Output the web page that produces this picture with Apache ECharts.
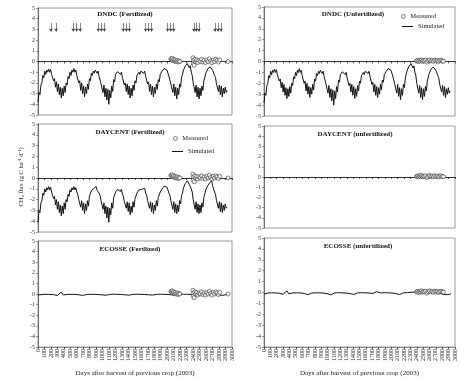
<!DOCTYPE html>
<html>
<head>
<meta charset="utf-8">
<script src="https://cdn.jsdelivr.net/npm/echarts@6/dist/echarts.min.js"></script>
<style>
  html, body { margin: 0; padding: 0; background: #fff; }
  #chart { width: 460px; height: 378px; }
</style>
</head>
<body>
<div id="chart"></div>
<script>
// simulated daily flux, sampled every 15 days from day 0
const simStep = 15;
const dndcSim = [
  -3.8,-2.9,-3.1,-2.2,-2.0,-1.3,-1.5,-0.9,-1.2,-0.8,-1.0,-0.7,
  -1.0,-0.75,-1.2,-1.3,-1.8,-1.6,-2.4,-1.9,-2.8,-2.1,-3.1,-2.4,-3.4,-2.5,-3.2,-2.3,-2.9,-2.0,-2.2,-1.4,-1.6,-1.0,-1.3,-0.8,-1.0,-0.65,
  -1.0,-0.8,-1.3,-1.4,-2.0,-1.8,-2.7,-2.0,-3.0,-2.3,-3.3,-2.4,-3.0,-2.1,-2.6,-1.6,-1.8,-1.1,-1.3,-0.9,-1.1,-0.8,-0.75,
  -1.1,-0.9,-1.4,-1.5,-2.1,-2.0,-2.9,-2.2,-3.3,-2.5,-3.6,-2.6,-4.0,-2.7,-3.4,-2.3,-2.8,-1.7,-1.9,-1.2,-1.3,-0.95,-1.1,-0.9,
  -1.2,-1.0,-1.5,-1.6,-2.2,-2.0,-2.8,-2.1,-3.1,-2.3,-3.4,-2.5,-3.2,-2.2,-2.7,-1.8,-2.0,-1.3,-1.4,-1.0,-1.2,-0.9,-1.05,-0.85,
  -1.1,-0.9,-1.4,-1.5,-2.1,-1.9,-2.8,-2.1,-3.1,-2.3,-3.3,-2.4,-3.0,-2.1,-2.6,-1.7,-1.9,-1.2,-1.3,-0.9,-1.0,-0.65,-0.8,-0.5,
  -0.8,-0.9,-1.4,-1.5,-2.1,-2.0,-2.9,-2.1,-3.2,-2.4,-3.5,-2.5,-3.1,-2.1,-2.4,-1.5,-1.4,-0.8,-0.8,-0.4,-0.5,-0.2,-0.1,
  -0.6,-0.4,-1.0,-1.3,-2.0,-2.0,-2.9,-2.2,-3.3,-2.4,-3.5,-2.5,-3.2,-2.3,-2.7,-1.8,-1.9,-1.1,-1.1,-0.7,-0.8,-0.5,-0.6,-0.4,
  -0.8,-0.8,-1.3,-1.5,-2.1,-2.1,-2.8,-2.2,-3.1,-2.3,-3.3,-2.5,-3.0,-2.4,-2.9,-2.7
];
const daycentSim = [
  -4.1,-3.0,-3.2,-2.3,-2.1,-1.4,-1.6,-1.0,-1.3,-0.9,-1.1,-0.8,
  -1.1,-0.85,-1.3,-1.3,-1.9,-1.7,-2.5,-2.0,-2.9,-2.2,-3.2,-2.5,-3.5,-2.6,-3.3,-2.3,-2.9,-2.0,-2.2,-1.5,-1.7,-1.1,-1.3,-0.9,-1.1,-0.8,
  -1.1,-0.9,-1.3,-1.5,-2.0,-1.9,-2.7,-2.1,-3.0,-2.3,-3.3,-2.4,-3.0,-2.1,-2.6,-1.7,-1.8,-1.2,-1.3,-1.0,-1.1,-0.85,-0.8,
  -1.15,-1.0,-1.4,-1.6,-2.1,-2.1,-2.9,-2.3,-3.3,-2.6,-3.7,-2.7,-4.1,-2.8,-3.4,-2.3,-2.8,-1.8,-1.9,-1.3,-1.4,-1.05,-1.2,-1.0,
  -1.25,-1.05,-1.5,-1.7,-2.2,-2.1,-2.8,-2.2,-3.1,-2.3,-3.4,-2.6,-3.2,-2.2,-2.7,-1.9,-2.0,-1.4,-1.4,-1.1,-1.2,-0.95,-1.05,-0.9,
  -1.15,-0.95,-1.4,-1.6,-2.1,-2.0,-2.8,-2.2,-3.1,-2.3,-3.3,-2.5,-3.0,-2.1,-2.6,-1.8,-1.9,-1.3,-1.3,-1.0,-1.0,-0.75,-0.85,-0.6,
  -0.85,-0.95,-1.4,-1.6,-2.1,-2.1,-2.9,-2.2,-3.2,-2.4,-3.3,-2.5,-3.1,-2.1,-2.4,-1.6,-1.4,-0.9,-0.8,-0.5,-0.5,-0.25,-0.15,
  -0.6,-0.45,-1.0,-1.3,-2.0,-2.1,-2.9,-2.2,-3.2,-2.4,-3.3,-2.5,-3.2,-2.3,-2.7,-1.8,-1.9,-1.1,-1.1,-0.7,-0.7,-0.45,-0.4,-0.25,
  -0.7,-0.8,-1.3,-1.5,-2.1,-2.1,-2.8,-2.2,-3.1,-2.3,-3.2,-2.5,-3.0,-2.4,-2.8,-2.7
];

// ECOSSE simulated, sampled every 30 days
const ecosseStep = 30;
const ecosseFertSim = [
  -0.10,-0.08,-0.05,-0.04,-0.03,-0.03,-0.04,-0.05,-0.06,-0.08,-0.14,-0.20,
  0.18,-0.10,-0.06,-0.04,-0.03,-0.03,-0.03,-0.04,-0.05,-0.07,-0.10,-0.13,
  -0.08,-0.05,-0.03,-0.03,-0.02,-0.03,-0.04,-0.05,-0.06,-0.08,-0.10,-0.12,
  -0.07,-0.04,-0.03,-0.02,-0.02,-0.03,-0.04,-0.05,-0.06,-0.08,-0.09,-0.11,
  -0.06,-0.04,-0.03,-0.02,-0.02,-0.03,-0.03,-0.05,-0.06,-0.07,-0.09,-0.10,
  -0.06,-0.04,-0.03,-0.02,-0.02,-0.03,-0.04,-0.05,-0.06,-0.08,-0.10,-0.12,
  -0.07,-0.04,-0.03,-0.02,-0.02,-0.03,-0.04,-0.05,-0.07,-0.09,-0.11,-0.13,
  -0.08,-0.05,-0.03,-0.02,-0.02,-0.03,-0.04,-0.05,-0.07,-0.09,-0.11,-0.13,
  -0.09,-0.06,-0.04
];
const ecosseUnfertSim = [
  -0.15,-0.08,-0.05,-0.04,-0.03,-0.03,-0.04,-0.05,-0.07,-0.10,-0.16,-0.22,
  0.15,-0.12,-0.06,-0.04,-0.03,-0.03,-0.03,-0.04,-0.06,-0.09,-0.14,-0.20,
  -0.10,-0.05,-0.03,-0.03,-0.02,-0.03,-0.04,-0.05,-0.07,-0.10,-0.15,-0.22,
  -0.09,-0.04,-0.03,-0.02,-0.02,-0.03,-0.04,-0.05,-0.07,-0.10,-0.14,-0.18,
  -0.08,-0.04,-0.03,-0.02,-0.02,-0.03,-0.03,-0.05,-0.07,-0.09,-0.13,0.08,
  -0.06,-0.04,-0.03,-0.02,-0.02,-0.03,-0.04,-0.05,-0.07,-0.10,-0.14,-0.18,
  -0.07,-0.03,-0.02,-0.01,0.02,0.03,0.02,0.03,0.02,0.01,-0.02,-0.04,
  -0.03,0.02,0.03,0.02,0.01,-0.01,-0.02,-0.05,-0.08,-0.12,-0.16,-0.20,
  -0.12,-0.18,-0.10
];

// measured fluxes [day, flux]
const measuredFert = [
  [2055,0.25],[2065,0.15],[2075,0.3],[2085,0.1],[2095,0.2],[2110,0.05],[2120,0.15],[2135,0.0],
  [2150,0.1],[2165,-0.05],[2180,0.05],[2195,0.0],
  [2395,0.35],[2400,-0.2],[2405,0.1],[2415,-0.35],[2425,0.2],[2440,0.0],[2455,0.15],[2470,-0.1],
  [2490,0.1],[2510,0.0],[2530,0.2],[2550,-0.05],[2570,0.1],[2590,-0.1],[2610,0.15],[2630,0.0],
  [2650,0.25],[2670,0.05],[2690,-0.1],[2710,0.15],[2730,0.0],[2750,0.2],[2770,0.1],[2790,-0.05],
  [2810,0.15],[2940,0.0]
];
const measuredUnfert = [
  [2395,0.05],[2410,0.1],[2425,0.0],[2440,0.12],[2455,0.05],[2470,0.15],[2485,0.02],[2500,0.1],
  [2520,0.05],[2540,0.12],[2560,-0.05],[2580,0.08],[2600,0.15],[2620,0.05],[2640,0.1],[2660,0.02],
  [2680,0.12],[2700,0.05],[2720,0.1],[2740,0.0],[2760,0.08],[2780,0.12],[2800,0.05],[2820,0.03]
];

// fertilizer application days (arrows in DNDC fertilized panel)
const fertDays = [200, 280, 545, 598, 652, 932, 980, 1026, 1320, 1368, 1414,
  1663, 1710, 1756, 2005, 2052, 2098, 2409, 2448, 2487, 2736, 2782, 2829];
const arrowTop = 3.6, arrowBottom = 2.8;

const yTicks = [-5, 5];
const dayRange = [0, 3000];

const panelTitles = ["DNDC (Fertilized)", "DNDC (Unfertilized)", "DAYCENT (Fertilized)",
  "DAYCENT (unfertilized)", "ECOSSE (Fertlized)", "ECOSSE (unfertilized)"];
const xTitle = "Days after harvest of previous crop (2003)";

const FONT = "Liberation Serif";
const toXY = (vals, step) => vals.map((v, i) => [i * step, v]);

const grids = [
  { left: 38, top: 8, width: 194, height: 107 },
  { left: 264, top: 7, width: 191, height: 109 },
  { left: 38, top: 124, width: 194, height: 108 },
  { left: 264, top: 126, width: 191, height: 102 },
  { left: 38, top: 241, width: 194, height: 108 },
  { left: 264, top: 238, width: 191, height: 110 },
].map((g) => Object.assign({ show: true, borderColor: "#808080", borderWidth: 0.8, containLabel: false }, g));

const xAxes = grids.map((g, i) => {
  const bottom = i >= 4;
  return {
    gridIndex: i,
    type: "value",
    min: dayRange[0],
    max: dayRange[1],
    interval: 100,
    axisLine: { onZero: !bottom, lineStyle: { color: bottom ? "#808080" : "#000", width: 0.8 } },
    axisTick: { show: true, length: 2, lineStyle: { color: "#000", width: 0.6 } },
    axisLabel: bottom
      ? { show: true, rotate: 90, fontSize: 6, fontFamily: FONT, color: "#222", margin: 2,
          formatter: (v) => String(v) }
      : { show: false },
    splitLine: { show: false },
    name: bottom ? xTitle : "",
    nameLocation: "middle",
    nameGap: 23,
    nameTextStyle: { fontSize: 7, fontFamily: FONT, color: "#222" },
  };
});

const yAxes = grids.map((g, i) => ({
  gridIndex: i,
  type: "value",
  min: yTicks[0],
  max: yTicks[1],
  interval: 1,
  axisLine: { show: true, lineStyle: { color: "#555", width: 0.8 } },
  axisTick: { show: true, length: 2, lineStyle: { color: "#555", width: 0.6 } },
  axisLabel: { fontSize: 6, fontFamily: FONT, color: "#333", margin: 3 },
  splitLine: { show: false },
}));

const simSeries = (data, idx) => ({
  name: "Simulated",
  type: "line",
  xAxisIndex: idx,
  yAxisIndex: idx,
  data: data,
  showSymbol: false,
  symbol: "none",
  lineStyle: { color: "#111", width: 1 },
  itemStyle: { color: "#111" },
  silent: true,
  animation: false,
  z: 2,
});

const measStyle = { color: "#fff", borderColor: "#222", borderWidth: 0.7 };
const measSeries = (data, idx) => ({
  name: "Measured",
  type: "scatter",
  xAxisIndex: idx,
  yAxisIndex: idx,
  data: data,
  symbol: "circle",
  symbolSize: 4,
  itemStyle: measStyle,
  silent: true,
  animation: false,
  z: 3,
});

const series = [
  simSeries(toXY(dndcSim, simStep), 0),
  Object.assign(measSeries(measuredFert, 0), {
    markLine: {
      silent: true,
      animation: false,
      symbol: ["none", "arrow"],
      symbolSize: [3, 3],
      label: { show: false },
      lineStyle: { color: "#333", width: 0.6, type: "solid" },
      data: fertDays.map((d) => [{ coord: [d, arrowTop] }, { coord: [d, arrowBottom] }]),
    },
  }),
  simSeries(toXY(dndcSim, simStep), 1),
  measSeries(measuredUnfert, 1),
  simSeries(toXY(daycentSim, simStep), 2),
  measSeries(measuredFert, 2),
  measSeries(measuredUnfert, 3),
  simSeries(toXY(ecosseFertSim, ecosseStep), 4),
  measSeries(measuredFert, 4),
  simSeries(toXY(ecosseUnfertSim, ecosseStep), 5),
  measSeries(measuredUnfert, 5),
];

const legendText = { fontSize: 6.5, fontFamily: FONT, color: "#222" };
const measItem = { name: "Measured", icon: "circle", itemStyle: measStyle };
const simItem = { name: "Simulated", icon: "rect", itemStyle: { color: "#111", borderWidth: 0 } };
const legends = [
  { left: 401, top: 13, data: [measItem], itemWidth: 4, itemHeight: 4 },
  { left: 402, top: 23, data: [simItem], itemWidth: 11, itemHeight: 1 },
  { left: 173, top: 135, data: [measItem], itemWidth: 4, itemHeight: 4 },
  { left: 172, top: 148, data: [simItem], itemWidth: 11, itemHeight: 1 },
].map((l) => Object.assign({ orient: "vertical", textStyle: legendText, itemGap: 2, selectedMode: false, padding: 0 }, l));

const titlePos = [[125, 14], [353, 14], [130, 132], [355, 134], [130, 249], [358, 246]];
const graphics = panelTitles.map((t, i) => ({
  type: "text",
  x: titlePos[i][0],
  y: titlePos[i][1],
  style: { text: t, align: "center", verticalAlign: "middle", font: "bold 7px " + FONT, fill: "#111" },
  silent: true,
}));
graphics.push({
  type: "text",
  x: 21,
  y: 177,
  rotation: Math.PI / 2,
  style: {
    text: "CH\u2084 flux (g C ha\u207B\u00B9 d\u207B\u00B9)",
    align: "center",
    verticalAlign: "middle",
    font: "6.5px " + FONT,
    fill: "#222",
  },
  silent: true,
});

const chart = echarts.init(document.getElementById("chart"), null, { renderer: "canvas" });
chart.setOption({
  animation: false,
  backgroundColor: "#fff",
  grid: grids,
  xAxis: xAxes,
  yAxis: yAxes,
  legend: legends,
  series: series,
  graphic: graphics,
});
</script>
</body>
</html>
